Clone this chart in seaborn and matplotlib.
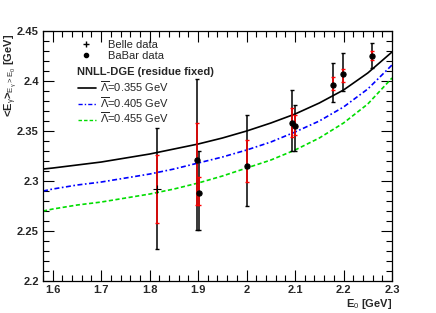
import numpy as np
import matplotlib
matplotlib.use("Agg")
import matplotlib.pyplot as plt
from matplotlib.lines import Line2D
from matplotlib.ticker import MultipleLocator
import seaborn as sns

# curves (E0 grid, <E_gamma> values)
curve_e0 = [1.58, 1.60, 1.65, 1.70, 1.75, 1.80, 1.85, 1.90, 1.95, 2.00,
            2.05, 2.10, 2.15, 2.20, 2.25, 2.30]
curve_355 = [2.312, 2.313, 2.316, 2.319, 2.323, 2.327, 2.332, 2.337, 2.343, 2.350,
             2.358, 2.367, 2.378, 2.391, 2.408, 2.429]
curve_405 = [2.290, 2.292, 2.296, 2.299, 2.303, 2.307, 2.312, 2.318, 2.324, 2.331,
             2.339, 2.349, 2.360, 2.374, 2.392, 2.416]
curve_455 = [2.270, 2.272, 2.276, 2.279, 2.283, 2.287, 2.292, 2.298, 2.305, 2.313,
             2.321, 2.331, 2.343, 2.358, 2.377, 2.403]
curve_labels = [r"$\overline{\Lambda}$=0.355 GeV", r"$\overline{\Lambda}$=0.405 GeV",
                r"$\overline{\Lambda}$=0.455 GeV"]

# Belle
belle_e0 = [1.815]
belle_val = [2.292]
belle_tot_lo = [2.232]
belle_tot_hi = [2.353]
belle_stat_lo = [2.258]
belle_stat_hi = [2.326]

# BaBar
babar_e0 = [1.897, 1.902, 2.0, 2.093, 2.099, 2.179, 2.199, 2.259]
babar_val = [2.321, 2.288, 2.315, 2.358, 2.355, 2.396, 2.407, 2.425]
babar_tot_lo = [2.251, 2.251, 2.275, 2.330, 2.330, 2.379, 2.390, 2.413]
babar_tot_hi = [2.402, 2.330, 2.366, 2.391, 2.376, 2.418, 2.428, 2.438]
babar_stat_lo = [2.276, 2.276, 2.299, 2.344, 2.346, 2.391, 2.399, 2.421]
babar_stat_hi = [2.358, 2.304, 2.341, 2.373, 2.366, 2.404, 2.412, 2.430]

sns.set_theme(style="ticks")
plt.rcParams["font.family"] = ["Liberation Sans", "DejaVu Sans"]
plt.rcParams["mathtext.fontset"] = "custom"
plt.rcParams["mathtext.rm"] = "Liberation Sans"
plt.rcParams["mathtext.it"] = "Liberation Sans"
plt.rcParams["mathtext.bf"] = "Liberation Sans:bold"

fig = plt.figure(figsize=(4.36, 3.13), dpi=100)
ax = fig.add_axes([0.0986, 0.102, 0.8005, 0.799])

sns.lineplot(x=curve_e0, y=curve_355, ax=ax, color="black", lw=1.2, linestyle="-")
sns.lineplot(x=curve_e0, y=curve_405, ax=ax, color="#0000ff", lw=1.2,
             linestyle=(0, (3, 1.5, 1, 1.5)))
sns.lineplot(x=curve_e0, y=curve_455, ax=ax, color="#00dd00", lw=1.2,
             linestyle=(0, (2.5, 1.5)))


def draw_points(e0, val, tlo, thi, slo, shi, marker, ms):
    val = np.array(val)
    tot = [val - np.array(tlo), np.array(thi) - val]
    stat = [val - np.array(slo), np.array(shi) - val]
    ax.errorbar(e0, val, yerr=tot, fmt="none", ecolor="black", elinewidth=1.1,
                capsize=1.5, capthick=1, zorder=3)
    ax.errorbar(e0, val, yerr=stat, fmt="none", ecolor="#ff0000", elinewidth=1.1,
                capsize=1.5, capthick=1, zorder=4)
    sns.scatterplot(x=e0, y=val, ax=ax, marker=marker, s=ms, color="black",
                    edgecolor="black", linewidth=0.8, zorder=5)


draw_points(belle_e0, belle_val, belle_tot_lo, belle_tot_hi,
            belle_stat_lo, belle_stat_hi, "+", 30)
draw_points(babar_e0, babar_val, babar_tot_lo, babar_tot_hi,
            babar_stat_lo, babar_stat_hi, "o", 14)

ax.set_xlim(1.58, 2.3)
ax.set_ylim(2.2, 2.45)
ax.xaxis.set_major_locator(MultipleLocator(0.1))
ax.xaxis.set_minor_locator(MultipleLocator(0.02))
ax.yaxis.set_major_locator(MultipleLocator(0.05))
ax.yaxis.set_minor_locator(MultipleLocator(0.01))
ax.xaxis.set_major_formatter(plt.FuncFormatter(lambda v, p: f"{v:g}"))
ax.yaxis.set_major_formatter(plt.FuncFormatter(lambda v, p: f"{v:g}"))
ax.tick_params(which="both", direction="in", top=True, right=True, width=0.8,
               color="black", labelsize=8, pad=3)
ax.tick_params(which="major", length=8)
ax.tick_params(which="minor", length=4)
for lab in ax.get_xticklabels() + ax.get_yticklabels():
    lab.set_fontweight("bold")
for sp in ax.spines.values():
    sp.set_color("black")
    sp.set_linewidth(0.9)

ax.set_xlabel(r"E$_0$ [GeV]", fontsize=8, fontweight="bold", loc="right", labelpad=1)
ax.set_ylabel(r"<E$_\gamma$>$_{\mathrm{E}_\gamma \mathrm{>E}_0}$ [GeV]", fontsize=8,
              fontweight="bold", loc="top")
ax.yaxis.set_label_coords(-0.068, 0.99)

# legend: data points
data_handles = [
    Line2D([], [], color="black", marker="+", linestyle="none", markersize=5),
    Line2D([], [], color="black", marker="o", linestyle="none", markersize=3),
]
leg1 = ax.legend(data_handles, ["Belle data", "BaBar data"], loc="upper left",
                 bbox_to_anchor=(0.08, 0.992), frameon=False, fontsize=8,
                 handlelength=1.5, handletextpad=1.2, labelspacing=0.15,
                 borderaxespad=0.2)
ax.add_artist(leg1)

ax.text(0.098, 0.838, "NNLL-DGE (residue fixed)", transform=ax.transAxes,
        fontsize=8, fontweight="bold", va="center", ha="left")

line_handles = [
    Line2D([], [], color="black", lw=1.2, linestyle="-"),
    Line2D([], [], color="#0000ff", lw=1.0, linestyle=(0, (3, 1.5, 1, 1.5))),
    Line2D([], [], color="#00dd00", lw=1.0, linestyle=(0, (2.5, 1.5))),
]
ax.legend(line_handles, curve_labels, loc="upper left", bbox_to_anchor=(0.082, 0.835),
          frameon=False, fontsize=8, handlelength=1.6, handletextpad=0.4,
          labelspacing=0.1, borderaxespad=0.2)

fig.savefig("out.png", dpi=100)
